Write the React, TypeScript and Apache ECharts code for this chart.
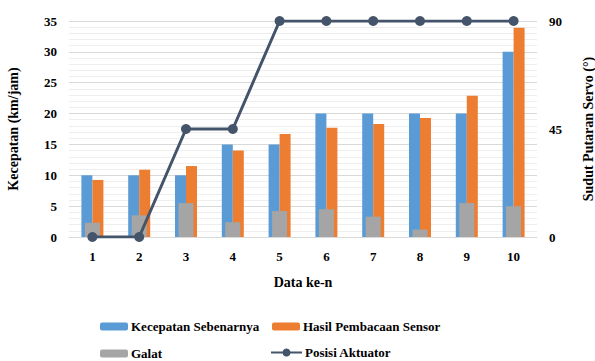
import React, { useEffect, useRef } from "react";
import * as echarts from "echarts";

const categories = ["1", "2", "3", "4", "5", "6", "7", "8", "9", "10"];
const kecepatanSebenarnya = [10, 10, 10, 15, 15, 20, 20, 20, 20, 30];
const hasilSensor = [9.25, 10.9, 11.5, 14.0, 16.7, 17.7, 18.3, 19.3, 22.9, 33.9];
const galat = [2.3, 3.5, 5.5, 2.4, 4.2, 4.5, 3.3, 1.2, 5.5, 5.0];
const posisiAktuator = [0, 0, 45, 45, 90, 90, 90, 90, 90, 90];

const FONT = "Liberation Serif, Times New Roman, serif";

export default function App() {
  const ref = useRef<HTMLDivElement>(null);
  useEffect(() => {
    if (!ref.current) return;
    const chart = echarts.init(ref.current, null, { renderer: "svg" });
    const txt = { fontFamily: FONT, fontWeight: "bold" as const, fontSize: 13, color: "#000" };
    const legendBase = {
      itemWidth: 28,
      itemHeight: 8,
      itemGap: 3,
      textStyle: { ...txt, padding: [0, 0, 0, -2] },
      padding: 0,
    };
    chart.setOption({
      animation: false,
      grid: { left: 69, right: 58, top: 21, bottom: 124, outerBoundsMode: "none" },
      legend: [
        { ...legendBase, left: 100, top: 320, data: ["Kecepatan Sebenarnya"] },
        { ...legendBase, left: 272, top: 320, data: ["Hasil Pembacaan Sensor"] },
        { ...legendBase, left: 100, top: 347, data: ["Galat"] },
        {
          ...legendBase,
          left: 270,
          top: 346,
          itemWidth: 31,
          itemHeight: 10,
          data: ["Posisi Aktuator"],
        },
      ],
      xAxis: [
        {
          type: "category",
          data: categories,
          axisTick: { show: false },
          axisLine: { show: true, lineStyle: { color: "#d9d9d9" } },
          axisLabel: { ...txt, margin: 13 },
          name: "Data ke-n",
          nameLocation: "middle",
          nameGap: 38,
          nameTextStyle: { ...txt, fontSize: 14 },
        },
        {
          type: "category",
          data: categories,
          show: false,
        },
      ],
      yAxis: [
        {
          type: "value",
          min: 0,
          max: 35,
          interval: 5,
          axisLabel: { ...txt, margin: 12 },
          axisLine: { show: false },
          axisTick: { show: false },
          splitLine: { show: true, lineStyle: { color: "#d9d9d9", width: 1 } },
          minorTick: { show: false, splitNumber: 5 },
          minorSplitLine: { show: true, lineStyle: { color: "#eeeeee", width: 1 } },
          name: "Kecepatan (km/jam)",
          nameLocation: "middle",
          nameGap: 49,
          nameRotate: 90,
          nameTextStyle: { ...txt, fontSize: 14 },
        },
        {
          type: "value",
          min: 0,
          max: 90,
          interval: 45,
          axisLabel: { ...txt, margin: 12 },
          axisLine: { show: false },
          axisTick: { show: false },
          splitLine: { show: false },
          name: "Sudut Putaran Servo (°)",
          nameLocation: "middle",
          nameGap: 44,
          nameRotate: 90,
          nameTextStyle: { ...txt, fontSize: 14 },
        },
      ],
      series: [
        {
          name: "Kecepatan Sebenarnya",
          type: "bar",
          data: kecepatanSebenarnya,
          barWidth: 11,
          barGap: "0%",
          itemStyle: { color: "#5B9BD5" },
          z: 2,
        },
        {
          name: "Hasil Pembacaan Sensor",
          type: "bar",
          data: hasilSensor,
          barWidth: 11,
          barGap: "0%",
          itemStyle: { color: "#ED7D31" },
          z: 2,
        },
        {
          name: "Galat",
          type: "bar",
          xAxisIndex: 1,
          data: galat,
          barWidth: 15,
          itemStyle: { color: "#A5A5A5" },
          z: 3,
        },
        {
          name: "Posisi Aktuator",
          type: "line",
          yAxisIndex: 1,
          data: posisiAktuator,
          symbol: "circle",
          symbolSize: 10,
          lineStyle: { color: "#44546A", width: 3 },
          itemStyle: { color: "#44546A" },
          z: 5,
        },
      ],
    });
    return () => chart.dispose();
  }, []);
  return <div ref={ref} style={{ width: 595, height: 361, position: "absolute", left: 0, top: 0 }} />;
}
